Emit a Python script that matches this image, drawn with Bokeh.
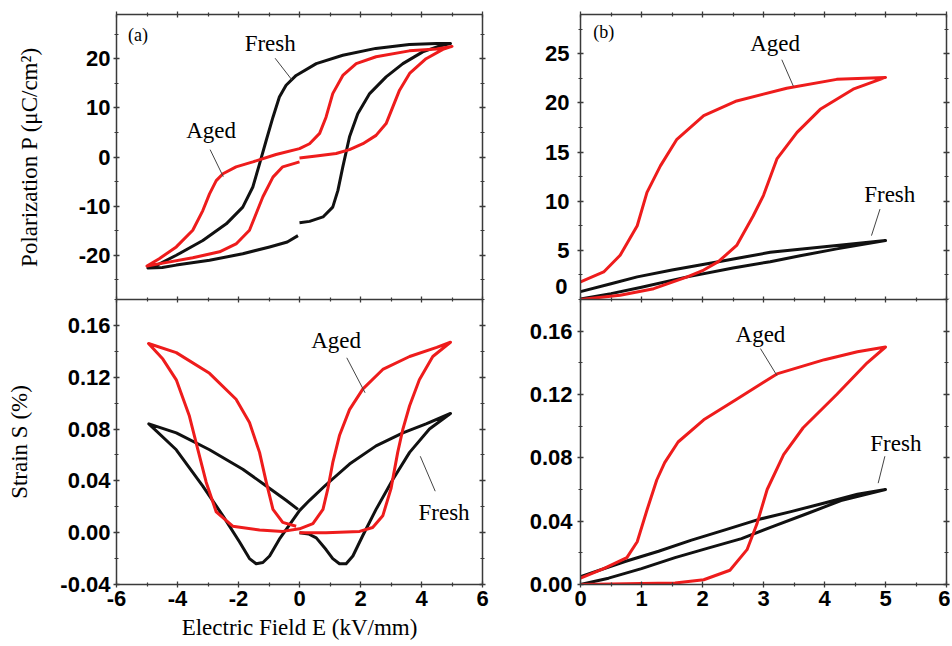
from bokeh.plotting import figure
from bokeh.models import LinearAxis, Label, FixedTicker, PrintfTickFormatter, Range1d
from bokeh.layouts import gridplot
from bokeh.embed import file_html
from bokeh.resources import INLINE

# ---------------- data ----------------
# (a) bipolar polarization loops, E in kV/mm, P in uC/cm^2
pa_fresh_E = [0.0, 0.33, 0.77, 1.09, 1.26, 1.42, 1.64, 1.91, 2.3, 2.84, 3.39, 4.04, 4.6, 4.95,
              4.5, 3.6, 2.5, 1.42, 0.55, -0.11, -0.44, -0.66, -0.87, -1.09, -1.31, -1.53, -1.86,
              -2.4, -3.17, -4.04, -4.7, -4.97,
              -4.5, -4.04, -2.95, -1.86, -0.98, -0.4, -0.05]
pa_fresh_P = [-13.4, -13.1, -12.2, -10.2, -6.8, -2.0, 4.1, 8.8, 12.9, 16.3, 19.0, 21.4, 22.6, 23.1,
              23.1, 22.9, 22.1, 20.7, 19.0, 16.6, 14.6, 12.2, 8.1, 3.4, -1.4, -6.1, -10.2,
              -13.6, -17.0, -20.0, -22.1, -22.6,
              -22.5, -22.0, -21.0, -19.7, -18.3, -17.3, -16.0]
pa_aged_E = [0.0, 0.55, 1.2, 1.64, 2.08, 2.51, 2.84, 3.06, 3.28, 3.61, 4.15, 4.7, 5.0,
             4.5, 3.6, 2.51, 1.86, 1.42, 1.09, 0.87, 0.66, 0.33, 0.0, -0.77, -1.53, -2.08, -2.51,
             -2.73, -2.95, -3.17, -3.5, -4.04, -4.6, -5.0,
             -4.48, -3.5, -2.62, -2.08, -1.64, -1.42, -1.2, -0.87, -0.55, -0.11, 0.0]
pa_aged_P = [-0.2, 0.2, 0.7, 1.5, 2.7, 4.4, 6.8, 10.2, 13.6, 17.0, 20.0, 21.9, 22.5,
             22.0, 21.6, 20.4, 19.0, 16.6, 12.9, 8.1, 4.8, 2.7, 1.7, 0.5, -1.0, -2.0, -3.4,
             -4.8, -7.5, -10.9, -14.9, -18.3, -20.7, -22.2,
             -21.6, -20.5, -19.3, -17.7, -14.9, -11.5, -8.1, -4.1, -2.0, -1.2, -1.0]

# (b) unipolar polarization loops
pb_fresh_E = [0.0, 0.5, 1.0, 1.75, 2.5, 3.11, 3.6, 4.2, 5.0,
              4.2, 3.11, 2.26, 1.5, 0.93, 0.5, 0.0]
pb_fresh_P = [0.05, 0.6, 1.25, 2.3, 3.2, 3.85, 4.45, 5.15, 6.0,
              5.5, 4.8, 3.85, 3.0, 2.3, 1.6, 0.8]
pb_aged_E = [0.0, 0.65, 1.2, 1.75, 2.02, 2.26, 2.56, 2.83, 3.0, 3.22, 3.55, 3.93, 4.47, 5.0,
             4.2, 3.38, 2.56, 2.02, 1.58, 1.31, 1.09, 0.93, 0.65, 0.38, 0.0]
pb_aged_P = [0.0, 0.44, 1.1, 2.3, 3.0, 3.85, 5.5, 8.5, 10.6, 14.3, 17.0, 19.35, 21.4, 22.6,
             22.4, 21.5, 20.2, 18.7, 16.3, 13.6, 10.9, 7.5, 4.5, 2.8, 1.8]

# (a) bipolar strain loops, S in %
sa_fresh_E = [0.0, 0.3, 0.55, 0.87, 1.09, 1.31, 1.53, 1.75, 2.08, 2.51, 3.06, 3.61, 4.26, 4.95,
              4.15, 3.39, 2.51, 1.64, 0.87, 0.33, 0.0, -0.33, -0.66, -0.98, -1.2, -1.42, -1.64,
              -1.97, -2.51, -3.17, -4.04, -4.94,
              -4.04, -2.95, -1.86, -1.09, -0.44, -0.05]
sa_fresh_S = [0.0, -0.001, -0.004, -0.013, -0.020, -0.024, -0.024, -0.018, -0.002, 0.018, 0.041,
              0.062, 0.080, 0.092,
              0.084, 0.077, 0.067, 0.053, 0.037, 0.025, 0.017, 0.006, -0.005, -0.018, -0.023,
              -0.024, -0.020, -0.007, 0.013, 0.036, 0.064, 0.084,
              0.077, 0.064, 0.049, 0.036, 0.025, 0.018]
sa_aged_E = [0.0, 0.87, 1.97, 2.4, 2.73, 3.0, 3.22, 3.39, 3.61, 3.93, 4.37, 4.95,
             4.5, 3.61, 2.73, 2.08, 1.64, 1.31, 1.09, 0.93, 0.77, 0.44, 0.0, -0.55, -1.31, -2.19,
             -2.73, -3.06, -3.33, -3.61, -4.04, -4.48, -4.95,
             -4.04, -2.95, -2.08, -1.64, -1.31, -1.09, -0.87, -0.55, -0.11]
sa_aged_S = [0.0, 0.0, 0.001, 0.004, 0.013, 0.034, 0.062, 0.080, 0.098, 0.118, 0.136, 0.147,
             0.143, 0.136, 0.126, 0.111, 0.095, 0.075, 0.054, 0.034, 0.018, 0.007, 0.003, 0.001,
             0.002, 0.005, 0.016, 0.039, 0.064, 0.090, 0.118, 0.134, 0.146,
             0.139, 0.123, 0.103, 0.085, 0.062, 0.039, 0.018, 0.008, 0.005]

# (b) unipolar strain loops
sb_fresh_E = [0.0, 0.46, 1.0, 1.55, 2.09, 2.64, 3.18, 3.73, 4.27, 5.0,
              4.54, 4.0, 3.45, 2.91, 2.37, 1.82, 1.28, 0.73, 0.0]
sb_fresh_S = [0.0, 0.004, 0.010, 0.017, 0.023, 0.029, 0.037, 0.045, 0.053, 0.060,
              0.057, 0.0515, 0.046, 0.041, 0.0345, 0.028, 0.021, 0.0145, 0.005]
sb_aged_E = [0.0, 1.0, 1.55, 2.02, 2.45, 2.73, 2.89, 3.06, 3.33, 3.65, 4.2, 4.7, 5.0,
             4.54, 4.0, 3.22, 2.56, 2.02, 1.6, 1.38, 1.25, 1.09, 0.93, 0.76, 0.38, 0.0]
sb_aged_S = [0.0, 0.0006, 0.001, 0.003, 0.009, 0.022, 0.038, 0.060, 0.082, 0.099, 0.120, 0.140,
             0.150, 0.147, 0.142, 0.133, 0.117, 0.104, 0.090, 0.077, 0.066, 0.047, 0.027, 0.017,
             0.010, 0.004]

# tick positions
xa_major = [-6, -4, -2, 0, 2, 4, 6]
xa_minor = [-5, -3, -1, 1, 3, 5]
xb_major = [0, 1, 2, 3, 4, 5, 6]
xb_minor = [0.5, 1.5, 2.5, 3.5, 4.5, 5.5]
pa_major = [-20, -10, 0, 10, 20]
pa_minor = [-25, -15, -5, 5, 15, 25]
pb_major = [0, 5, 10, 15, 20, 25]
pb_labeled = [5, 10, 15, 20, 25]
pb_edge = [0]
pb_minor = [2.5, 7.5, 12.5, 17.5, 22.5, 27.5]
s_major = [-0.04, 0.0, 0.04, 0.08, 0.12, 0.16]
s_minor = [-0.02, 0.02, 0.06, 0.10, 0.14, 0.18]

RED = "#ee1c1c"
BLACK = "#111111"
AX = "#3a3a3a"
SANS = "Liberation Sans"
SERIF = "Liberation Serif"


def style_axis(ax, ticks, minor, show_labels, tick_out=3, standoff=3, fmt="%d"):
    ax.ticker = FixedTicker(ticks=ticks, minor_ticks=minor)
    ax.axis_line_color = AX
    ax.axis_line_width = 1.5
    ax.major_tick_line_color = AX
    ax.minor_tick_line_color = AX
    ax.major_tick_line_width = 1.3
    ax.minor_tick_line_width = 1.2
    ax.major_tick_in = 3
    ax.major_tick_out = tick_out
    ax.minor_tick_in = 2
    ax.minor_tick_out = min(tick_out, 2)
    if show_labels:
        ax.formatter = PrintfTickFormatter(format=fmt)
        ax.major_label_text_font = SANS
        ax.major_label_text_font_size = "22px"
        ax.major_label_text_font_style = "bold"
        ax.major_label_text_color = "black"
        ax.major_label_standoff = standoff
    else:
        ax.major_label_text_font_size = "0px"
        ax.major_label_text_alpha = 0
        ax.major_label_text_color = None
        ax.major_label_standoff = 0


def make_fig(width, height, xr, yr, borders, xt, yt, top_row, ylab=None, ylab_standoff=0,
             xlab=None, ytick_standoff=3, yfmt="%d", ylabeled=None):
    p = figure(width=width, height=height, x_range=xr, y_range=yr,
               output_backend="svg", toolbar_location=None,
               min_border_left=borders[0], min_border_right=borders[1],
               min_border_top=borders[2], min_border_bottom=borders[3])
    p.xgrid.visible = False
    p.ygrid.visible = False
    p.outline_line_color = None
    p.background_fill_color = "white"
    p.border_fill_color = "white"
    # bottom axis
    xb = p.xaxis[0]
    if top_row:
        style_axis(xb, xt[0], xt[1], False, tick_out=0)
    else:
        style_axis(xb, xt[0], xt[1], True, tick_out=3, standoff=3)
    if xlab:
        xb.axis_label = xlab
        xb.axis_label_text_font = SERIF
        xb.axis_label_text_font_size = "23px"
        xb.axis_label_text_font_style = "normal"
        xb.axis_label_text_color = "black"
        xb.axis_label_standoff = 6
    # left axis
    yl = p.yaxis[0]
    style_axis(yl, ylabeled if ylabeled else yt[0], yt[1], True, tick_out=3,
               standoff=ytick_standoff, fmt=yfmt)
    if ylab:
        yl.axis_label = ylab
        yl.axis_label_text_font = SERIF
        yl.axis_label_text_font_size = "23px"
        yl.axis_label_text_font_style = "normal"
        yl.axis_label_text_color = "black"
        yl.axis_label_standoff = ylab_standoff
    # top axis (ticks only)
    xa = LinearAxis()
    style_axis(xa, xt[0], xt[1], False, tick_out=(3 if top_row else 0))
    p.add_layout(xa, "above")
    # right axis (ticks only)
    yr_ax = LinearAxis()
    style_axis(yr_ax, yt[0], yt[1], False, tick_out=3)
    p.add_layout(yr_ax, "right")
    return p


def ann(p, text, x, y, size="23px", align="center"):
    p.add_layout(Label(x=x, y=y, text=text, text_font=SERIF, text_font_size=size,
                       text_align=align, text_baseline="middle", text_color="black"))


LW = 3.0
LEAD = "#444444"

# ---- top-left (a) polarization
p1 = make_fig(492, 299, (-6, 6), (-29, 29), (116, 10, 14, 0), (xa_major, xa_minor),
              (pa_major, pa_minor), True, ylab="Polarization P (\u03bcC/cm\u00b2)",
              ylab_standoff=34)
p1.line(pa_fresh_E, pa_fresh_P, line_color=BLACK, line_width=LW, line_join="round")
p1.line(pa_aged_E, pa_aged_P, line_color=RED, line_width=LW, line_join="round")
p1.segment(x0=[-0.8, -2.93], y0=[20.1, 1.5], x1=[-0.25, -2.5], y1=[15.7, -4.0],
           line_color=LEAD, line_width=1)
ann(p1, "Fresh", -0.96, 23.1)
ann(p1, "Aged", -2.9, 5.4)
ann(p1, "(a)", -5.62, 24.8, size="18px", align="left")

# ---- top-right (b) polarization
p2 = make_fig(458, 299, (0, 6), (0, 29), (88, 4, 14, 0), (xb_major, xb_minor),
              (pb_major, pb_minor), True, ytick_standoff=8, ylabeled=pb_labeled)
# the "0" label of the lower edge: an extra label-only axis on a slightly shifted
# helper range, so that the text sits just above the panel boundary (not clipped)
p2.extra_y_ranges = {"edge_label": Range1d(start=-1.3, end=27.7)}
zax = LinearAxis(y_range_name="edge_label")
zax.ticker = FixedTicker(ticks=pb_edge, minor_ticks=[])
zax.formatter = PrintfTickFormatter(format="%d")
zax.axis_line_color = None
zax.major_tick_line_color = None
zax.minor_tick_line_color = None
zax.major_tick_in = 0
zax.major_tick_out = 0
zax.minor_tick_in = 0
zax.minor_tick_out = 0
zax.major_label_text_font = SANS
zax.major_label_text_font_size = "22px"
zax.major_label_text_font_style = "bold"
zax.major_label_text_color = "black"
zax.major_label_standoff = -25
p2.add_layout(zax, "left")

p2.line(pb_fresh_E, pb_fresh_P, line_color=BLACK, line_width=LW, line_join="round")
p2.line(pb_aged_E, pb_aged_P, line_color=RED, line_width=LW, line_join="round")
p2.segment(x0=[3.30, 4.91], y0=[24.4, 9.2], x1=[3.49, 4.77], y1=[21.7, 6.5],
           line_color=LEAD, line_width=1)
ann(p2, "Aged", 3.19, 26.1)
ann(p2, "Fresh", 5.07, 10.7)
ann(p2, "(b)", 0.21, 27.2, size="18px", align="left")

# ---- bottom-left (a) strain
p3 = make_fig(492, 346, p1.x_range, (-0.04, 0.18), (116, 10, 0, 61), (xa_major, xa_minor),
              (s_major, s_minor), False, ylab="Strain S (%)", ylab_standoff=25,
              xlab="Electric Field E (kV/mm)", yfmt="%.2f")
p3.line(sa_fresh_E, sa_fresh_S, line_color=BLACK, line_width=LW, line_join="round")
p3.line(sa_aged_E, sa_aged_S, line_color=RED, line_width=LW, line_join="round")
p3.segment(x0=[1.55, 3.96], y0=[0.135, 0.059], x1=[2.15, 4.45], y1=[0.108, 0.032],
           line_color=LEAD, line_width=1)
ann(p3, "Aged", 1.2, 0.148)
ann(p3, "Fresh", 4.74, 0.0154)

# ---- bottom-right (b) strain
p4 = make_fig(458, 346, p2.x_range, (0, 0.18), (88, 4, 0, 61), (xb_major, xb_minor),
              (s_major, s_minor), False, ytick_standoff=5, yfmt="%.2f")
p4.line(sb_fresh_E, sb_fresh_S, line_color=BLACK, line_width=LW, line_join="round")
p4.line(sb_aged_E, sb_aged_S, line_color=RED, line_width=LW, line_join="round")
p4.segment(x0=[2.95, 4.99], y0=[0.149, 0.081], x1=[3.22, 4.88], y1=[0.132, 0.064],
           line_color=LEAD, line_width=1)
ann(p4, "Aged", 2.95, 0.158)
ann(p4, "Fresh", 5.17, 0.089)

grid = gridplot([[p1, p2], [p3, p4]], toolbar_location=None)

open("out.html", "w").write(file_html(grid, INLINE))
